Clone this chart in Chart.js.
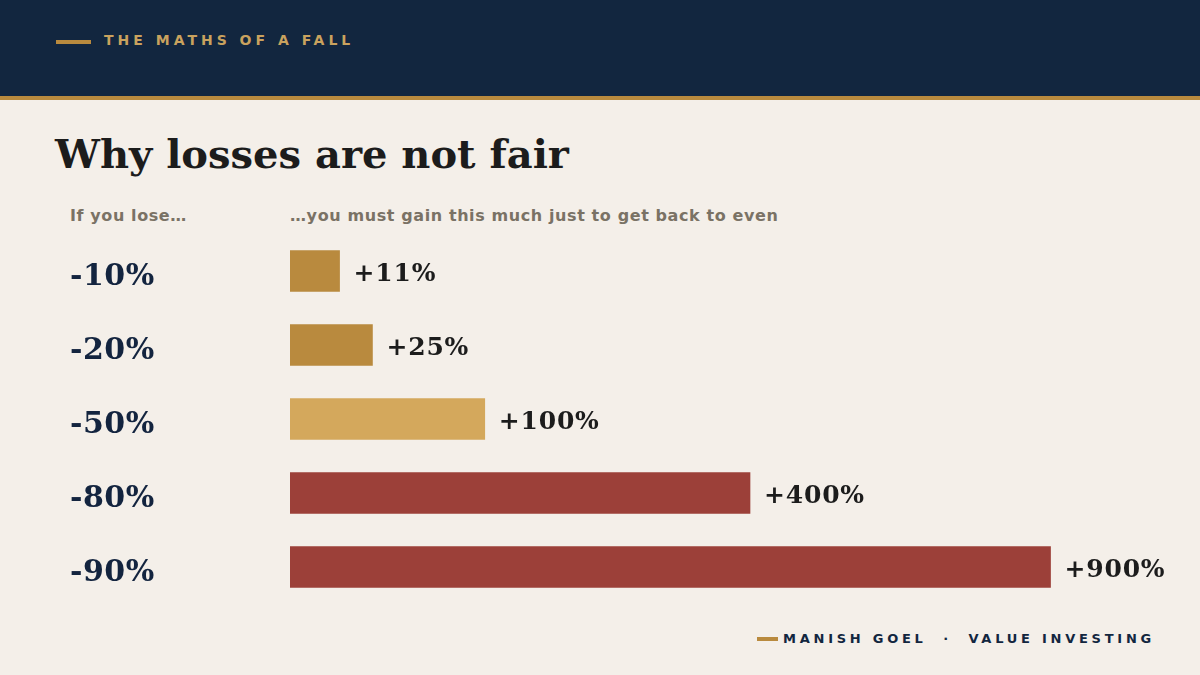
<!DOCTYPE html>
<html>
<head>
<meta charset="utf-8">
<script src="https://cdn.jsdelivr.net/npm/chart.js@4"></script>
<style>
  html, body { margin: 0; padding: 0; }
  body { width: 1200px; height: 675px; background: #F4EFE9; position: relative; overflow: hidden; }
  .top { position: absolute; left: 0; top: 0; width: 1200px; height: 96px; background: #12263F; border-bottom: 4px solid #B98A3E; }
  .kicker { position: absolute; left: 104px; top: 32px; font: bold 14px "DejaVu Sans"; letter-spacing: 4px; color: #C9A25E; }
  .dash { position: absolute; background: #B98A3E; height: 4px; }
  h1 { position: absolute; left: 55px; top: 130px; margin: 0; font: bold 40px "DejaVu Serif"; color: #1C1C1C; }
  .sub { position: absolute; top: 206px; font: bold 16px "DejaVu Sans"; letter-spacing: 0.6px; color: #7A7265; }
  .foot { position: absolute; left: 783px; top: 631px; font: bold 13px "DejaVu Sans"; letter-spacing: 3.75px; color: #12263F; white-space: pre; }
  #wrap { position: absolute; left: 70px; top: 216px; width: 1130px; height: 406px; }
</style>
</head>
<body>
<div class="top"></div>
<div class="dash" style="left:56px; top:40px; width:35px;"></div>
<div class="kicker">THE MATHS OF A FALL</div>
<h1>Why losses are not fair</h1>
<div class="sub" style="left:70px;">If you lose…</div>
<div class="sub" style="left:290px;">…you must gain this much just to get back to even</div>
<div id="wrap"><canvas id="chart"></canvas></div>
<div class="dash" style="left:757px; top:637px; width:21px;"></div>
<div class="foot">MANISH GOEL  ·  VALUE INVESTING</div>

<script>
const losses = ["-10%", "-20%", "-50%", "-80%", "-90%"];
const gains = [11, 25, 100, 400, 900];
const barColors = ["#B98A3E", "#B98A3E", "#D4A85C", "#9C4039", "#9C4039"];

// bar length grows with gain^0.62 in the original, not linearly
const power = 0.62;
const barLength = gains.map(g => Math.pow(g, power));

// a little tracking on the serif labels, like the original
const tracking = {
  id: "tracking",
  beforeDraw(chart) {
    chart.ctx.letterSpacing = "0.5px";
  }
};

const valueLabels = {
  id: "valueLabels",
  afterDatasetsDraw(chart) {
    const ctx = chart.ctx;
    const meta = chart.getDatasetMeta(0);
    ctx.save();
    ctx.letterSpacing = "0.8px";
    ctx.font = "bold 25px 'DejaVu Serif'";
    ctx.fillStyle = "#1C1C1C";
    ctx.textBaseline = "middle";
    meta.data.forEach((bar, i) => {
      ctx.fillText("+" + gains[i] + "%", bar.x + 14, bar.y + 3);
    });
    ctx.restore();
  }
};

new Chart(document.getElementById("chart"), {
  type: "bar",
  data: {
    labels: losses,
    datasets: [{
      data: barLength,
      backgroundColor: barColors,
      barThickness: 41,
      borderWidth: 0
    }]
  },
  options: {
    indexAxis: "y",
    responsive: true,
    maintainAspectRatio: false,
    animation: false,
    layout: { padding: 0 },
    plugins: {
      legend: { display: false },
      tooltip: { enabled: false }
    },
    scales: {
      x: {
        min: 0,
        max: 81.2,
        display: false
      },
      y: {
        grid: { display: false },
        border: { display: false },
        afterFit(scale) { scale.width = 220; },
        ticks: {
          crossAlign: "far",
          padding: 0,
          labelOffset: 6,
          color: "#13243F",
          font: { family: "DejaVu Serif", weight: "bold", size: 30 }
        }
      }
    }
  },
  plugins: [tracking, valueLabels]
});
</script>
</body>
</html>
